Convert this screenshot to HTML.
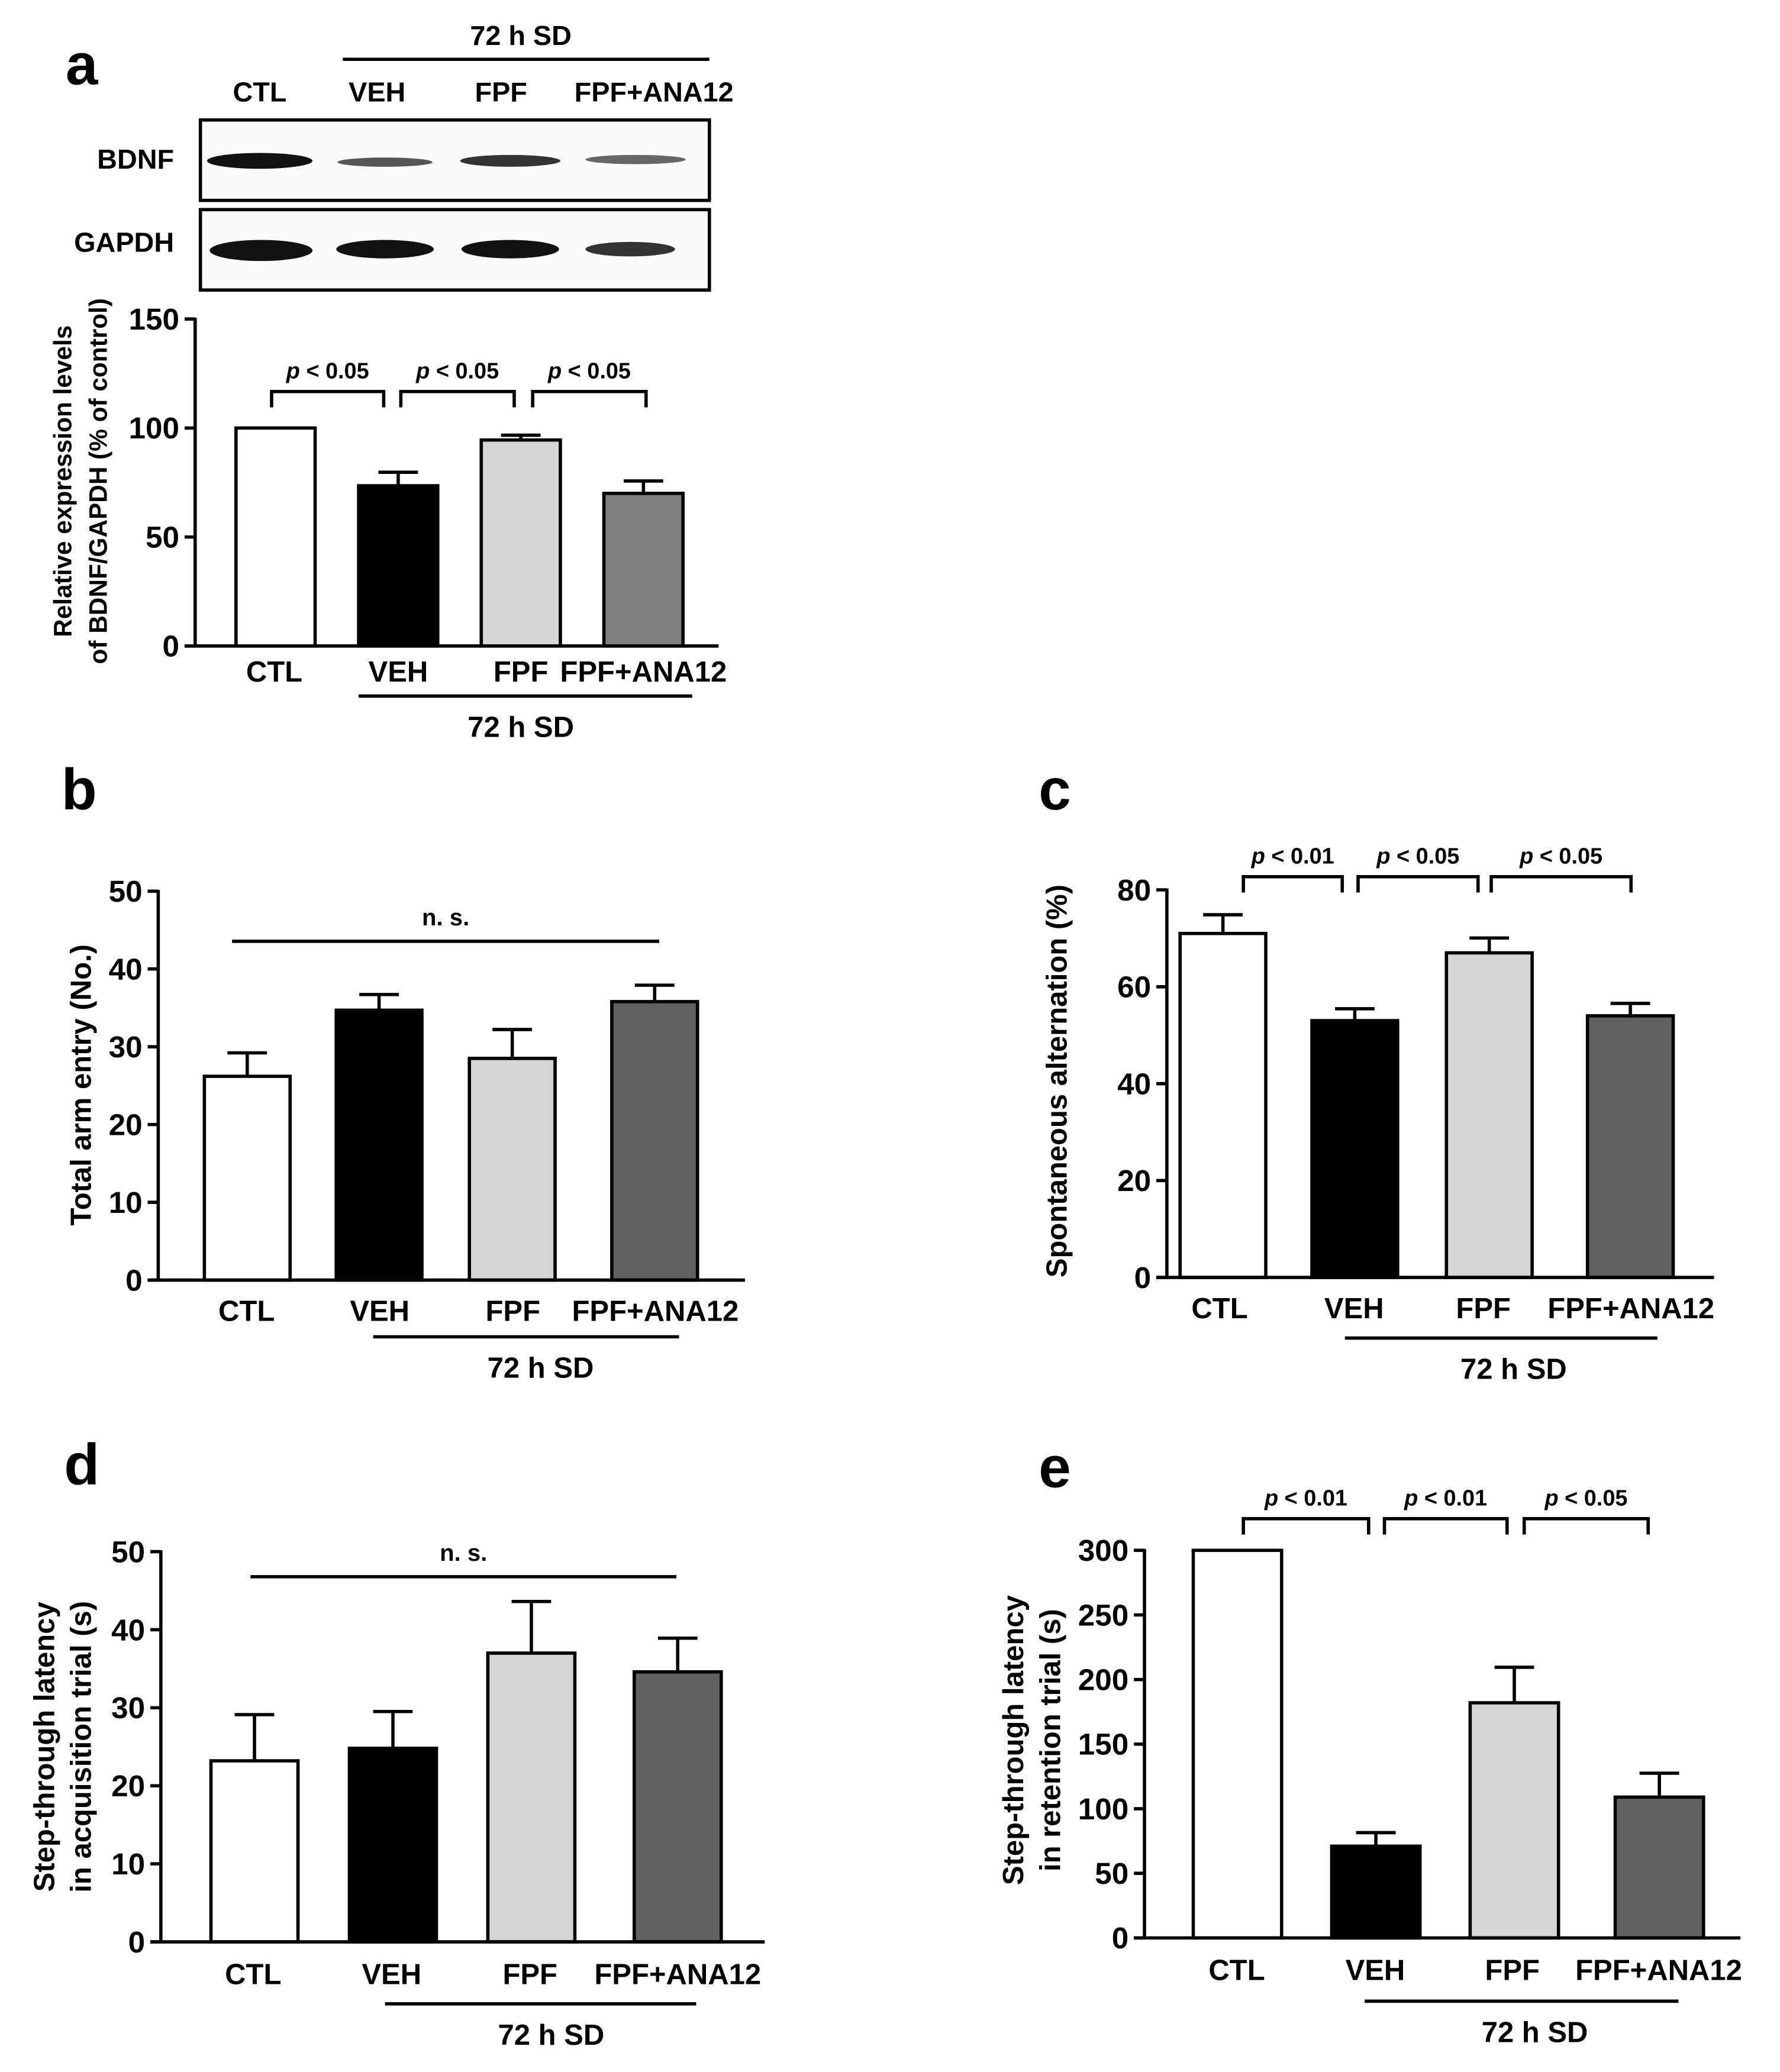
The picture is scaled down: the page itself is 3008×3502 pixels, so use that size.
<!DOCTYPE html>
<html><head><meta charset="utf-8"><style>
html,body{margin:0;padding:0;background:#fff}
svg{display:block}
text{font-family:"Liberation Sans",Arial,sans-serif;font-weight:bold;fill:#000}
</style></head><body>
<svg id="fig" width="3008" height="3502" viewBox="0 0 1350 1571.7" xmlns="http://www.w3.org/2000/svg">
<rect width="1350" height="1572" fill="#fff"/>
<g>
  <text x="62" y="64" font-size="44" text-anchor="middle">a</text>
  <text x="395" y="34" font-size="21" text-anchor="middle">72 h SD</text>
  <line x1="260" y1="45" x2="538" y2="45" stroke="#000" stroke-width="2.5"/>
  <text x="197" y="77" font-size="21" text-anchor="middle">CTL</text>
  <text x="286" y="77" font-size="21" text-anchor="middle">VEH</text>
  <text x="380" y="77" font-size="21" text-anchor="middle">FPF</text>
  <text x="496" y="77" font-size="21" text-anchor="middle">FPF+ANA12</text>
  <text x="132" y="128" font-size="21" text-anchor="end">BDNF</text>
  <text x="132" y="191" font-size="21" text-anchor="end">GAPDH</text>
  <rect x="152" y="91" width="386" height="61" fill="#fafafa" stroke="#000" stroke-width="2.5"/>
  <rect x="152" y="159" width="386" height="61" fill="#fafafa" stroke="#000" stroke-width="2.5"/>
  <ellipse cx="197" cy="122" rx="40" ry="6" fill="#111"/>
  <ellipse cx="292" cy="123" rx="36" ry="3.5" fill="#555"/>
  <ellipse cx="387" cy="122" rx="38" ry="4.5" fill="#333"/>
  <ellipse cx="482" cy="121" rx="38" ry="3.5" fill="#666"/>
  <ellipse cx="198" cy="190" rx="39" ry="8" fill="#111"/>
  <ellipse cx="292" cy="189" rx="37" ry="7" fill="#111"/>
  <ellipse cx="387" cy="189" rx="37" ry="7" fill="#111"/>
  <ellipse cx="478" cy="189" rx="34" ry="5.5" fill="#333"/>
</g>
</svg>
<script>
const NS='http://www.w3.org/2000/svg';
const svg=document.getElementById('fig');
const groups=['CTL','VEH','FPF','FPF+ANA12'];

const aTicks=[0,50,100,150];
const aValues=[100,73.5,94.5,70];
const aErrors=[0,6.5,2.5,6];
const bTicks=[0,10,20,30,40,50];
const bValues=[26.2,34.7,28.5,35.8];
const bErrors=[3.1,2.1,3.8,2.2];
const cTicks=[0,20,40,60,80];
const cValues=[71,53,67,54];
const cErrors=[4,2.6,3.2,2.7];
const dTicks=[0,10,20,30,40,50];
const dValues=[23.2,24.8,37,34.6];
const dErrors=[6,4.8,6.7,4.4];
const eTicks=[0,50,100,150,200,250,300];
const eValues=[300,71,182,109];
const eErrors=[0,11,28,19];

function mk(tag,attrs,parent){const e=document.createElementNS(NS,tag);for(const k in attrs)e.setAttribute(k,attrs[k]);(parent||svg).appendChild(e);return e;}
function txt(s,x,y,size,anchor,parent){const t=mk('text',{x:x,y:y,'font-size':size,'text-anchor':anchor||'middle'},parent);t.textContent=s;return t;}

function panel(cfg){
  const g=mk('g',{});
  
  
  const yMax=cfg.ticks[cfg.ticks.length-1];
  const Y=v=>cfg.y0-(v/yMax)*(cfg.y0-cfg.yTop);
  const lbl=txt(cfg.id,cfg.labelX,cfg.labelY,44,'middle',g);
  
  
  cfg.values.forEach((v,i)=>{
    const x=cfg.barX[i];
    if(cfg.errors[i]>0){
      const cx=x+cfg.barW/2;
      const l=mk('line',{x1:cx,y1:Y(v),x2:cx,y2:Y(v+cfg.errors[i]),stroke:'#000','stroke-width':2.5},g);
      
      
      const c=mk('line',{x1:cx-15,y1:Y(v+cfg.errors[i])+0.5,x2:cx+15,y2:Y(v+cfg.errors[i])+0.5,stroke:'#000','stroke-width':2.5},g);
      
      
    }
    const r=mk('rect',{x:x,y:Y(v),width:cfg.barW,height:cfg.y0-Y(v),fill:cfg.colors[i],stroke:'#000','stroke-width':2.5},g);
    
    
  });
  const ya=mk('line',{x1:cfg.axX,y1:cfg.yTop-1,x2:cfg.axX,y2:cfg.y0,stroke:'#000','stroke-width':2.5},g);
  
  
  const xa=mk('line',{x1:cfg.axX-8,y1:cfg.y0,x2:cfg.axEnd,y2:cfg.y0,stroke:'#000','stroke-width':2.5},g);
  
  
  cfg.ticks.forEach(t=>{
    const tk=mk('line',{x1:cfg.axX-8,y1:Y(t),x2:cfg.axX,y2:Y(t),stroke:'#000','stroke-width':2.5},g);
    
    
    const tl=txt(String(t),cfg.axX-12,Y(t)+8,23,'end',g);
    
    
  });
  groups.forEach((s,i)=>{
    const t=txt(s,cfg.labX[i],cfg.labY,22,'middle',g);
    
    
  });
  const ul=mk('line',{x1:cfg.sd[0],y1:cfg.sd[2],x2:cfg.sd[1],y2:cfg.sd[2],stroke:'#000','stroke-width':2.5},g);
  
  
  const sdt=txt('72 h SD',cfg.sd[3],cfg.sd[2]+31,22,'middle',g);
  
  
  cfg.title.forEach((s,k)=>{
    const t=txt(s,0,0,cfg.titleSize,'middle',g);
    t.setAttribute('transform','translate('+(cfg.titleX[k])+','+cfg.titleY+') rotate(-90)');
    
    
  });
  (cfg.brackets||[]).forEach((b,k)=>{
    const p=mk('path',{d:'M'+b[0]+' '+(b[2]+12)+' V'+b[2]+' H'+b[1]+' V'+(b[2]+12),fill:'none',stroke:'#000','stroke-width':2.5},g);
    
    
    const t=mk('text',{x:(b[0]+b[1])/2,y:b[2]-10,'font-size':17,'text-anchor':'middle'},g);
    t.innerHTML='<tspan font-style="italic">p</tspan>'+b[3];
    
    
  });
  if(cfg.ns){
    const l=mk('line',{x1:cfg.ns[0],y1:cfg.ns[2],x2:cfg.ns[1],y2:cfg.ns[2],stroke:'#000','stroke-width':2.5},g);
    
    
    const t=txt('n. s.',(cfg.ns[0]+cfg.ns[1])/2,cfg.ns[2]-12,18,'middle',g);
    
    
  }
}

panel({id:'a',labelX:-100,labelY:-100,ticks:aTicks,values:aValues,errors:aErrors,y0:490,yTop:242,axX:148,axEnd:545,
  barX:[179,272,365,458],barW:60,colors:['#fff','#000','#d4d4d4','#808080'],
  labX:[208,302,395,488],labY:517,sd:[272,525,528,395],title:['Relative expression levels','of BDNF/GAPDH (% of control)'],titleX:[54,81],titleY:365,titleSize:19,
  brackets:[[206,291,297,'  < 0.05'],[304,390,297,'  < 0.05'],[404,490,297,'  < 0.05']]});
panel({id:'b',labelX:60,labelY:614,ticks:bTicks,values:bValues,errors:bErrors,y0:971,yTop:676,axX:120,axEnd:565,
  barX:[155,255,356,464],barW:65,colors:['#fff','#000','#d4d4d4','#606060'],
  labX:[187,288,389,497],labY:1002,sd:[283,515,1014,410],title:['Total arm entry (No.)'],titleX:[69],titleY:823,titleSize:22,
  ns:[176,500,714]});
panel({id:'c',labelX:800,labelY:614,ticks:cTicks,values:cValues,errors:cErrors,y0:969,yTop:675,axX:885,axEnd:1300,
  barX:[895,995,1097,1204],barW:65,colors:['#fff','#000','#d4d4d4','#606060'],
  labX:[925,1027,1125,1237],labY:1000,sd:[1020,1257,1015,1148],title:['Spontaneous alternation (%)'],titleX:[809],titleY:820,titleSize:22,
  brackets:[[943,1018,665,' < 0.01'],[1030,1121,665,' < 0.05'],[1131,1237,665,' < 0.05']]});
panel({id:'d',labelX:62,labelY:1126,ticks:dTicks,values:dValues,errors:dErrors,y0:1473,yTop:1177,axX:122,axEnd:580,
  barX:[160,265,370,481],barW:66,colors:['#fff','#000','#d4d4d4','#606060'],
  labX:[192,297,402,514],labY:1505,sd:[292,528,1520,418],title:['Step-through latency','in acquisition trial (s)'],titleX:[41,69],titleY:1325,titleSize:22,
  ns:[190,513,1196]});
panel({id:'e',labelX:800,labelY:1128,ticks:eTicks,values:eValues,errors:eErrors,y0:1470,yTop:1176,axX:868,axEnd:1320,
  barX:[905,1010,1115,1225],barW:67,colors:['#fff','#000','#d4d4d4','#606060'],
  labX:[938,1043,1147,1258],labY:1502,sd:[1035,1273,1518,1164],title:['Step-through latency','in retention trial (s)'],titleX:[776,804],titleY:1320,titleSize:22,
  brackets:[[943,1038,1152,' < 0.01'],[1050,1143,1152,' < 0.01'],[1156,1250,1152,' < 0.05']]});
</script>
</body></html>
